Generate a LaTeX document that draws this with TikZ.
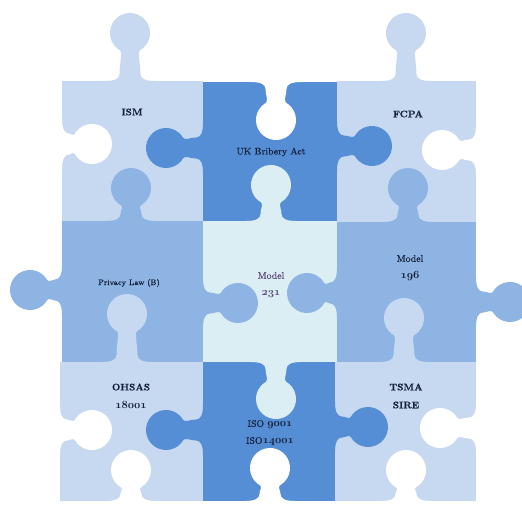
\documentclass[tikz,border=0pt]{standalone}
\usepackage{fontspec}
\setmainfont{Latin Modern Roman}[FakeBold=0.6]
\usepackage{xcolor}
\definecolor{pLight}{HTML}{C6D9F0}
\definecolor{pMed}{HTML}{8EB4E3}
\definecolor{pDark}{HTML}{558ED5}
\definecolor{pCyan}{HTML}{DBEEF4}
\definecolor{txtc}{HTML}{16223D}
\definecolor{txtp}{HTML}{5E4A80}
\newcommand\osn[1]{{\fontencoding{OML}\fontfamily{cmm}\fontseries{b}\fontshape{it}\fontsize{10.5}{17}\selectfont #1}}
% #1 colour, #2 x, #3 y (point on the edge), #4 rotation (0 up, 90 left, 180 down, -90 right), #5 head distance
\newcommand\knob[5]{%
  \begin{scope}[shift={(#2,#3)}, rotate=#4]
    \pgfmathsetmacro\jv{#5-17.32}%
    \pgfmathsetmacro\cv{#5-18.82}%
    \pgfmathsetmacro\av{7+0.4*(#5-24.32)}%
    \fill[#1] (-25pt,-1pt) -- (-25pt,0pt)
      .. controls (-15pt,0pt) and (-10.5pt,2.5pt) .. (-10.5pt,7pt)
      .. controls (-10.5pt,\av pt) and (-7.4pt,\cv pt) .. (-10pt,\jv pt)
      arc[start angle=240, end angle=-60, radius=20pt]
      .. controls (7.4pt,\cv pt) and (10.5pt,\av pt) .. (10.5pt,7pt)
      .. controls (10.5pt,2.5pt) and (15pt,0pt) .. (25pt,0pt)
      -- (25pt,-1pt) -- cycle;
  \end{scope}}
\begin{document}
\begin{tikzpicture}[x=1pt,y=-1pt,
  lbl/.style={text=txtc, align=center, inner sep=0pt, font=\fontsize{9.5}{17}\selectfont},
  blbl/.style={lbl, font=\fontsize{9.5}{18}\selectfont\bfseries}]
\useasboundingbox (0,0) rectangle (522,506);
\fill[white] (0,0) rectangle (522,506);
% cells
\fill[pLight] (62,81) rectangle (203,221);
\fill[pDark]  (203,82) rectangle (337,221);
\fill[pLight] (337,81) rectangle (476,222);
\fill[pMed]   (62,221) rectangle (203,362);
\fill[pCyan]  (203,221) rectangle (337,362);
\fill[pMed]   (337,222) rectangle (476,362);
\fill[pLight] (60,362) rectangle (203,501);
\fill[pDark]  (203,362) rectangle (335,501);
\fill[pLight] (335,362) rectangle (476,501);
% outer tabs
\knob{pLight}{130}{81}{0}{48}
\knob{pLight}{406}{81}{0}{48}
\knob{pMed}{62}{290}{90}{32}
\knob{pMed}{476}{302}{-90}{34}
% interior tabs
\knob{pDark}{203}{148}{90}{37}
\knob{pDark}{337}{146}{-90}{35}
\knob{pMed}{131}{221}{0}{33}
\knob{pCyan}{271}{221}{0}{36}
\knob{pMed}{408}{222}{0}{34}
\knob{pMed}{203}{303}{-90}{35}
\knob{pMed}{337}{293}{90}{30}
\knob{pLight}{127}{362}{0}{48}
\knob{pLight}{404}{362}{0}{44}
\knob{pCyan}{276}{362}{180}{37}
\knob{pDark}{203}{430}{90}{37}
\knob{pDark}{335}{427}{-90}{33}
% outer blanks
\knob{white}{62}{144}{-90}{30}
\knob{white}{276}{82}{180}{38}
\knob{white}{476}{150}{90}{34}
\knob{white}{60}{430}{-90}{32}
\knob{white}{131}{501}{0}{31}
\knob{white}{270}{501}{0}{33}
\knob{white}{476}{428}{90}{36}
\knob{white}{406}{501}{0}{31}
% labels
\node[blbl] (ism) at (132,112) {ISM};
\node[lbl] (uk) at (271,152) {UK Bribery Act};
\node[blbl] (fcpa) at (408,114) {FCPA};
\node[lbl, font=\fontsize{8}{10}\selectfont] (priv) at (129,283) {Privacy Law (B)};
\node[lbl, text=txtp] (m231) at (271,285) {Model\\\osn{231}};
\node[lbl] (m196) at (410,268) {Model\\\osn{196}};
\node[blbl] (ohsas) at (131,396) {OHSAS\\\osn{18001}};
\node[lbl] (iso) at (270,433) {ISO \osn{9001}\\ISO\osn{14001}};
\node[blbl] (tsma) at (406,396) {TSMA\\SIRE};
\end{tikzpicture}
\end{document}
